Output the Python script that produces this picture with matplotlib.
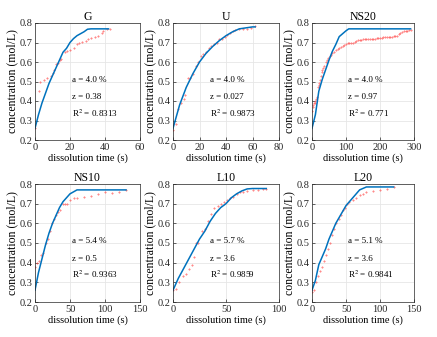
import matplotlib
matplotlib.use("Agg")
import matplotlib.pyplot as plt

plt.rcParams['font.family'] = ['Liberation Serif', 'DejaVu Serif']
plt.rcParams['mathtext.fontset'] = 'stix'

BLUE = (0.0, 0.447, 0.741)
RED = '#ff4a4a'

titles = ['G', 'U', 'NS20', 'NS10', 'L10', 'L20']
xmax = [60, 80, 300, 150, 100, 150]
xticks = [[0, 20, 40, 60], [0, 20, 40, 60, 80], [0, 100, 200, 300],
          [0, 50, 100, 150], [0, 50, 100], [0, 50, 100, 150]]
a_vals = ['4.0', '4.0', '4.0', '5.4', '5.7', '5.1']
z_vals = ['0.38', '0.027', '0.97', '0.5', '3.6', '3.6']
r2_vals = ['0.8313', '0.9873', '0.771', '0.9363', '0.9859', '0.9841']

# fitted model curves
g_fit_x = [0, 2, 4, 6, 8, 10, 12, 14, 16, 18, 20, 22, 24, 26, 28, 30, 32, 36, 42]
g_fit_y = [0.26, 0.33, 0.39, 0.44, 0.49, 0.53, 0.57, 0.61, 0.65, 0.67, 0.70, 0.72, 0.735, 0.745, 0.755, 0.768, 0.77, 0.77, 0.77]
u_fit_x = [0, 5, 10, 15, 20, 25, 30, 35, 40, 45, 50, 55, 60, 62]
u_fit_y = [0.26, 0.38, 0.47, 0.54, 0.60, 0.645, 0.68, 0.71, 0.735, 0.755, 0.77, 0.775, 0.78, 0.78]
ns20_fit_x = [0, 10, 20, 30, 40, 50, 60, 70, 80, 90, 100, 108, 290]
ns20_fit_y = [0.26, 0.33, 0.45, 0.51, 0.56, 0.61, 0.655, 0.69, 0.73, 0.745, 0.76, 0.77, 0.77]
ns10_fit_x = [0, 5, 10, 15, 20, 25, 30, 35, 40, 45, 50, 55, 60, 130]
ns10_fit_y = [0.26, 0.35, 0.42, 0.49, 0.55, 0.60, 0.64, 0.68, 0.71, 0.73, 0.75, 0.76, 0.77, 0.77]
l10_fit_x = [0, 5, 10, 15, 20, 25, 30, 35, 40, 45, 50, 55, 60, 65, 70, 75, 88]
l10_fit_y = [0.26, 0.32, 0.37, 0.42, 0.47, 0.52, 0.56, 0.61, 0.65, 0.68, 0.70, 0.73, 0.75, 0.765, 0.775, 0.777, 0.777]
l20_fit_x = [0, 5, 10, 15, 20, 25, 30, 35, 40, 45, 50, 55, 60, 70, 80, 120]
l20_fit_y = [0.26, 0.31, 0.39, 0.43, 0.47, 0.52, 0.56, 0.60, 0.63, 0.66, 0.69, 0.71, 0.73, 0.77, 0.785, 0.785]

# measured points
g_x = [0, 2, 3, 5, 7, 9, 10, 11, 12, 13, 14, 15, 17, 18, 20, 22, 24, 25, 27, 29, 30, 32, 34, 36, 38, 39, 41, 43]
g_y = [0.26, 0.45, 0.50, 0.51, 0.52, 0.53, 0.545, 0.56, 0.59, 0.595, 0.61, 0.615, 0.65, 0.655, 0.66, 0.67, 0.69, 0.70, 0.705, 0.71, 0.72, 0.725, 0.73, 0.735, 0.75, 0.76, 0.77, 0.77]
u_x = [0, 2, 4, 6, 8, 9, 11, 13, 15, 17, 19, 21, 23, 25, 27, 29, 31, 33, 35, 37, 39, 41, 43, 45, 47, 50, 53, 56, 59, 62]
u_y = [0.25, 0.28, 0.36, 0.39, 0.41, 0.43, 0.52, 0.52, 0.54, 0.58, 0.60, 0.63, 0.64, 0.65, 0.67, 0.68, 0.69, 0.70, 0.72, 0.72, 0.73, 0.74, 0.75, 0.76, 0.765, 0.77, 0.77, 0.77, 0.775, 0.785]
ns20_x = [0, 2, 4, 6, 8, 10, 12, 15, 18, 20, 22, 24, 26, 28, 30, 33, 36, 40, 44, 48, 52, 56, 60, 65, 70, 75, 80,
          85, 90, 95, 100, 105, 110, 115, 120, 125, 130, 135, 140, 145, 150, 155, 160, 165, 170, 175, 180, 185,
          190, 195, 200, 205, 210, 215, 220, 225, 230, 235, 240, 245, 250, 255, 260, 265, 270, 275, 280, 285, 290]
ns20_y = [0.35, 0.37, 0.38, 0.39, 0.39, 0.40, 0.41, 0.42, 0.47, 0.48, 0.49, 0.51, 0.53, 0.55, 0.56, 0.57, 0.58,
          0.60, 0.61, 0.62, 0.63, 0.635, 0.645, 0.65, 0.66, 0.665, 0.67, 0.675, 0.68, 0.685, 0.69, 0.695, 0.70,
          0.70, 0.70, 0.705, 0.71, 0.715, 0.715, 0.715, 0.72, 0.72, 0.72, 0.72, 0.72, 0.72, 0.72, 0.72, 0.725,
          0.725, 0.725, 0.725, 0.73, 0.73, 0.73, 0.73, 0.73, 0.73, 0.735, 0.735, 0.735, 0.745, 0.75, 0.755, 0.76,
          0.76, 0.76, 0.765, 0.765]
ns10_x = [0, 3, 6, 9, 12, 15, 18, 21, 24, 27, 30, 33, 36, 40, 43, 46, 50, 55, 60, 70, 80, 90, 100, 110, 120, 130]
ns10_y = [0.38, 0.40, 0.41, 0.44, 0.45, 0.50, 0.52, 0.56, 0.60, 0.62, 0.64, 0.66, 0.67, 0.70, 0.70, 0.70, 0.72, 0.73, 0.73, 0.735, 0.74, 0.75, 0.76, 0.755, 0.76, 0.77]
l10_x = [0, 3, 6, 9, 12, 15, 18, 20, 22, 24, 27, 30, 33, 36, 39, 42, 45, 48, 51, 54, 57, 60, 63, 66, 70, 75, 80, 85, 88]
l10_y = [0.26, 0.265, 0.30, 0.33, 0.34, 0.37, 0.39, 0.43, 0.50, 0.50, 0.56, 0.57, 0.61, 0.65, 0.68, 0.69, 0.70, 0.71, 0.72, 0.73, 0.735, 0.75, 0.76, 0.76, 0.765, 0.77, 0.77, 0.775, 0.775]
l20_x = [0, 3, 6, 9, 12, 15, 18, 21, 24, 27, 30, 33, 36, 39, 42, 45, 48, 51, 55, 60, 65, 70, 75, 80, 90, 100, 110, 120]
l20_y = [0.25, 0.26, 0.30, 0.33, 0.36, 0.38, 0.41, 0.44, 0.47, 0.50, 0.54, 0.57, 0.60, 0.62, 0.64, 0.67, 0.68, 0.70, 0.71, 0.72, 0.73, 0.745, 0.75, 0.76, 0.765, 0.77, 0.775, 0.785]

fits = [(g_fit_x, g_fit_y), (u_fit_x, u_fit_y), (ns20_fit_x, ns20_fit_y),
        (ns10_fit_x, ns10_fit_y), (l10_fit_x, l10_fit_y), (l20_fit_x, l20_fit_y)]
meas = [(g_x, g_y), (u_x, u_y), (ns20_x, ns20_y), (ns10_x, ns10_y), (l10_x, l10_y), (l20_x, l20_y)]

W, H = 437, 337
fig = plt.figure(figsize=(W / 100, H / 100), dpi=100)

# axes boxes in pixels: left, right, top, bottom
lefts = [35, 173, 312]
rights = [140, 279, 414]
rows = [(23, 140), (184, 302)]

for i in range(6):
    r, c = divmod(i, 3)
    top, bot = rows[r]
    ax = fig.add_axes([lefts[c] / W, (H - bot) / H, (rights[c] - lefts[c]) / W, (bot - top) / H])
    mx, my = meas[i]
    fx, fy = fits[i]
    ax.plot(mx, my, '+', color=RED, ms=2, mew=0.8, alpha=0.65)
    ax.plot(fx, fy, '-', color=BLUE, lw=1.1)
    ax.set_xlim(0, xmax[i])
    ax.set_ylim(0.2, 0.8)
    ax.set_xticks(xticks[i])
    ax.set_yticks([0.2, 0.3, 0.4, 0.5, 0.6, 0.7, 0.8])
    ax.grid(True, color='#e6e6e6', lw=0.6)
    ax.set_axisbelow(True)
    ax.tick_params(labelsize=7.5, length=2, width=0.5, direction='in', pad=2, colors='#262626')
    for s in ax.spines.values():
        s.set_linewidth(0.5)
        s.set_color('#262626')
    ax.set_title(titles[i], fontsize=8.5, pad=2)
    ax.set_xlabel('dissolution time (s)', fontsize=7.5, labelpad=1)
    ax.set_ylabel('concentration (mol/L)', fontsize=8.5, labelpad=1)
    ax.text(0.35, 0.5, 'a = ' + a_vals[i] + ' %', transform=ax.transAxes, fontsize=6.5)
    ax.text(0.35, 0.35, 'z = ' + z_vals[i], transform=ax.transAxes, fontsize=6.5)
    ax.text(0.35, 0.2, 'R$^2$ = ' + r2_vals[i], transform=ax.transAxes, fontsize=6.5)

fig.savefig('out.png', dpi=100)
